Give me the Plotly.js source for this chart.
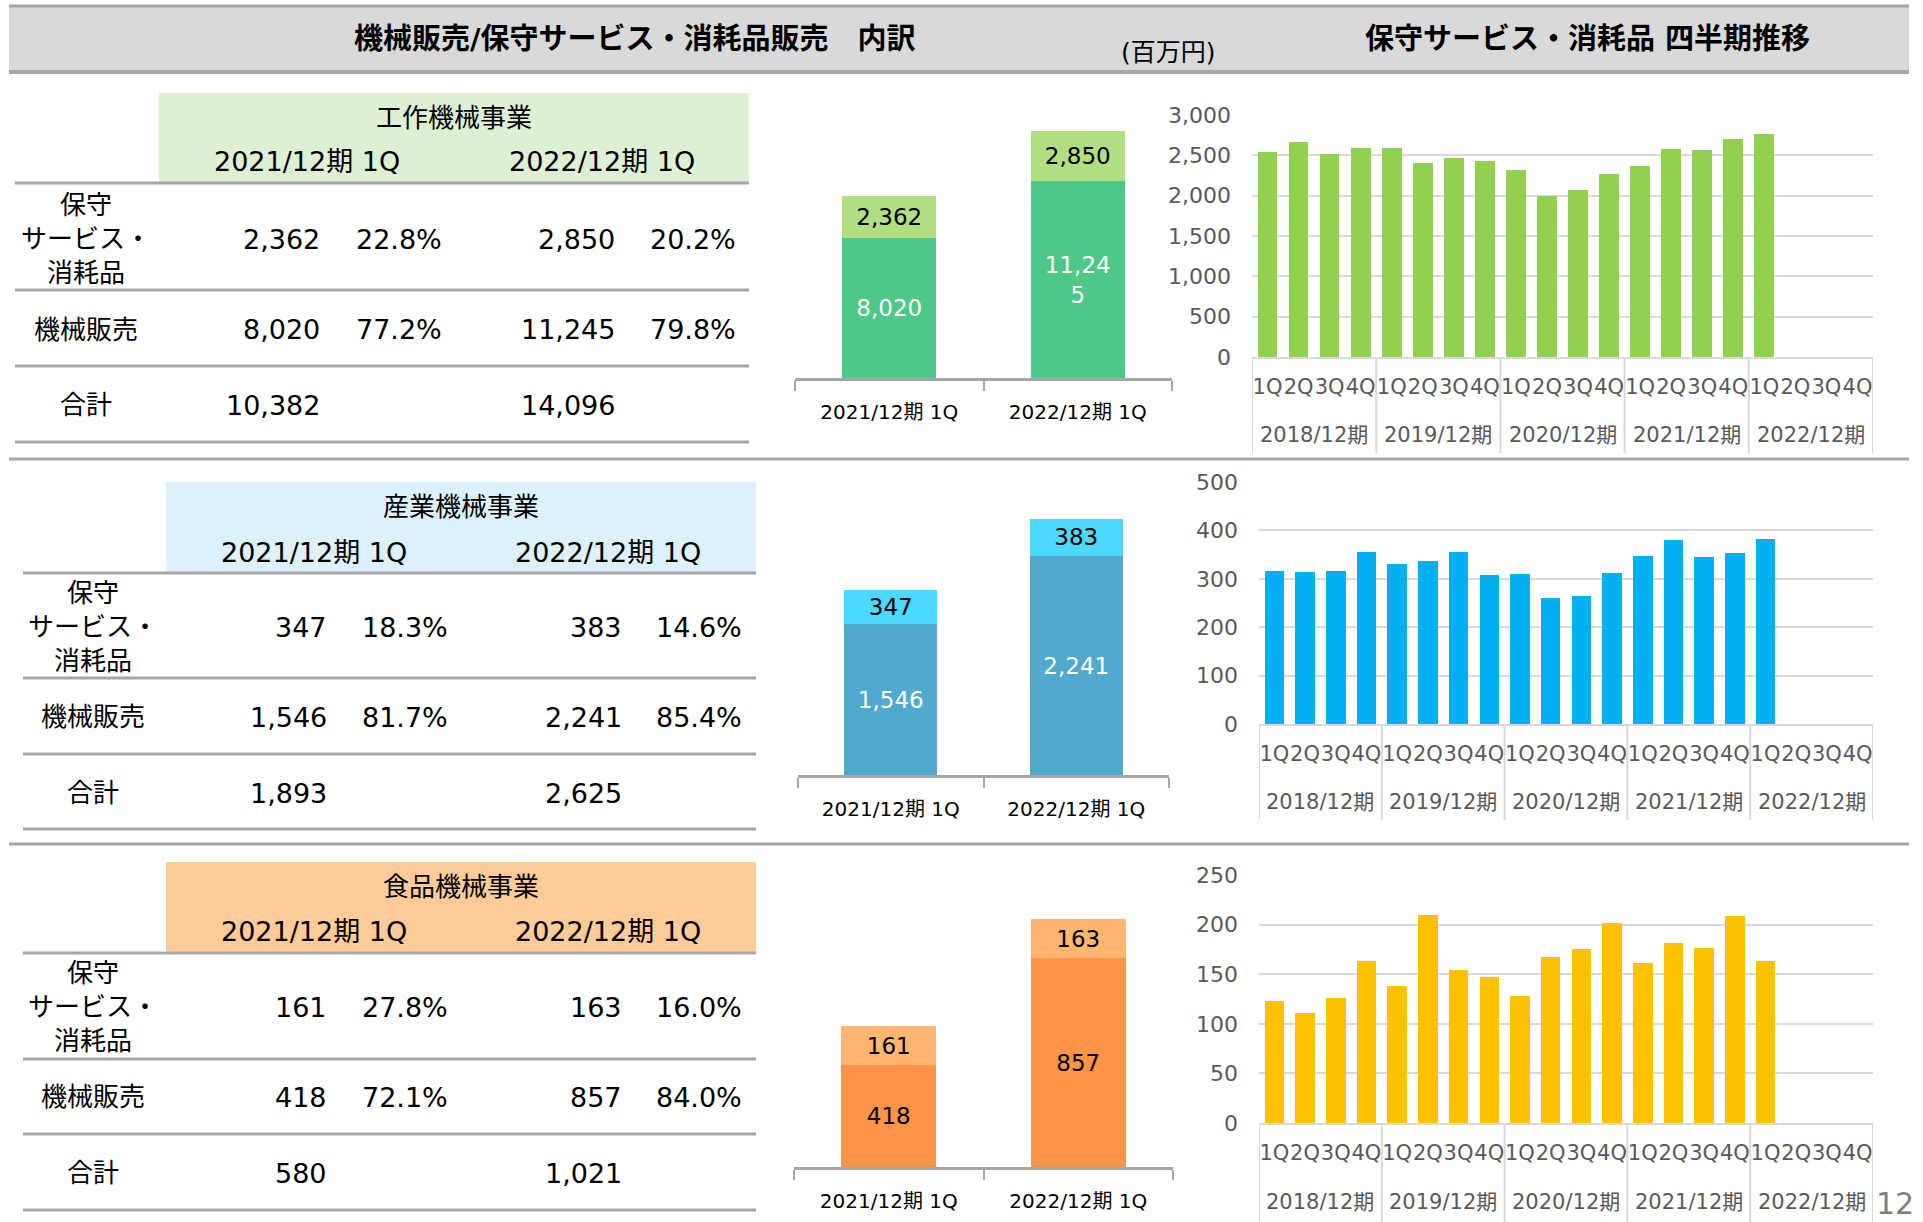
<!DOCTYPE html>
<html><head><meta charset="utf-8">
<script src="https://cdn.plot.ly/plotly-3.0.1.min.js"></script>
<style>html,body{margin:0;padding:0;background:#fff}#c{width:1923px;height:1222px}</style>
</head><body><div id="c"></div>
<script>
// ---------- DATA ----------
const segments = ['工作機械事業', '産業機械事業', '食品機械事業'];
const periods = ['2021/12期 1Q', '2022/12期 1Q'];
const rowLabels = ['保守<br>サービス・<br>消耗品', '機械販売', '合計'];
const serviceSales = [[2362, 2850], [347, 383], [161, 163]];
const machineSales = [[8020, 11245], [1546, 2241], [418, 857]];
const servicePct = [[22.8, 20.2], [18.3, 14.6], [27.8, 16.0]];
const machinePct = [[77.2, 79.8], [81.7, 85.4], [72.1, 84.0]];
const totals = [[10382, 14096], [1893, 2625], [580, 1021]];
const fiscalYears = ['2018/12期', '2019/12期', '2020/12期', '2021/12期', '2022/12期'];
const quarters = ['1Q', '2Q', '3Q', '4Q'];
const qMachineTool = [2540, 2660, 2520, 2590, 2590, 2410, 2465, 2435, 2320, 2000, 2070, 2265, 2362, 2580, 2565, 2700, 2765];
const qIndustrial = [316, 314, 316, 355, 330, 336, 355, 308, 310, 260, 265, 312, 347, 381, 345, 353, 383];
const qFood = [123, 111, 126, 163, 138, 210, 154, 147, 128, 167, 175, 202, 161, 181, 176, 209, 163];
const mainTitle = '機械販売/保守サービス・消耗品販売　内訳';
const unitLabel = '(百万円)';
const rightTitle = '保守サービス・消耗品 四半期推移';
const pageNo = '12';

// ---------- STYLE / GEOMETRY ----------
const W = 1923, H = 1222;
const FONT = 'DejaVu Sans, "Noto Sans CJK JP", sans-serif';
const X = p => p / W, Y = p => 1 - p / H;
const domX = (a, b) => [a / W, b / W];
const domY = (top, bot) => [1 - bot / H, 1 - top / H];
const fmt = v => v.toLocaleString('en-US');
const wrap5 = s => s.length > 5 ? s.slice(0, 5) + '<br>' + s.slice(5) : s;

const tableGeo = [
  {bgX: [159, 749], bgY: [93, 183], titleY: 118, colY: 162, colX: [307, 602], lineX: [15, 749], lineY: [183, 290, 366, 442], labelX: 86, rowY: [239, 330, 405], valR: [322, 444, 617, 738]},
  {bgX: [166, 756], bgY: [482, 572], titleY: 507, colY: 552, colX: [314, 608], lineX: [23, 756], lineY: [573, 678, 754, 829], labelX: 93, rowY: [627, 717, 793], valR: [329, 450, 624, 744]},
  {bgX: [166, 756], bgY: [862, 952], titleY: 887, colY: 932, colX: [314, 608], lineX: [23, 756], lineY: [953, 1059, 1134, 1210], labelX: 93, rowY: [1007, 1097, 1173], valR: [329, 450, 624, 744]}
];
const headerBg = ['#DEF0D3', '#DCF1FB', '#FFCC99'];
const stackGeo = [
  {x: [795, 1172], base: 378, top: 98, range: 16000},
  {x: [798, 1169], base: 775, top: 482, range: 3000},
  {x: [794, 1173], base: 1167, top: 875, range: 1200}
];
const stackColors = [['#4DC886', '#B1DE82'], ['#50AACD', '#4DD9FF'], ['#FF9448', '#FFB671']];
const stackTextColors = [['#fff', '#000'], ['#fff', '#000'], ['#000', '#000']];
const qGeo = [
  {x: [1252, 1873], base: 357, top: 115, range: 3000, dtick: 500, yearY: 435, divBot: 453},
  {x: [1259, 1873], base: 724, top: 482, range: 500, dtick: 100, yearY: 802, divBot: 820},
  {x: [1259, 1873], base: 1123, top: 875, range: 250, dtick: 50, yearY: 1202, divBot: 1222}
];
const qColors = ['#92D050', '#00B0F0', '#FFC000'];
const qData = [qMachineTool, qIndustrial, qFood];

const traces = [];
const shapes = [];
const annotations = [];
const layout = {
  width: W, height: H, margin: {l: 0, r: 0, t: 0, b: 0},
  paper_bgcolor: '#fff', plot_bgcolor: 'rgba(0,0,0,0)',
  showlegend: false, barmode: 'stack', font: {family: FONT, color: '#000'},
  shapes: shapes, annotations: annotations
};

const txt = (text, x, y, size, opts) => annotations.push(Object.assign({
  text: text, x: X(x), y: Y(y), xref: 'paper', yref: 'paper', showarrow: false,
  xanchor: 'center', yanchor: 'middle', font: {family: FONT, size: size, color: '#000'}
}, opts || {}));
const hline = (x0, x1, y, color, w) => shapes.push({type: 'line', xref: 'paper', yref: 'paper',
  x0: X(x0), x1: X(x1), y0: Y(y), y1: Y(y), line: {color: color, width: w}});

// header band
shapes.push({type: 'rect', xref: 'paper', yref: 'paper', x0: X(9), x1: X(1909), y0: Y(72), y1: Y(6),
  fillcolor: '#D9D9D9', line: {width: 0}, layer: 'below'});
hline(9, 1909, 6, '#A6A6A6', 3);
hline(9, 1909, 72, '#A6A6A6', 4);
txt('<b>' + mainTitle + '</b>', 635, 39, 29);
txt(unitLabel, 1168, 53, 25);
txt('<b>' + rightTitle + '</b>', 1587, 39, 29);
// section separators
hline(9, 1909, 459, '#A6A6A6', 3);
hline(9, 1909, 844, '#A6A6A6', 3);
txt(pageNo, 1895, 1203, 30, {font: {family: FONT, size: 30, color: '#7F7F7F'}});

// tables
segments.forEach((seg, s) => {
  const g = tableGeo[s];
  shapes.push({type: 'rect', xref: 'paper', yref: 'paper', x0: X(g.bgX[0]), x1: X(g.bgX[1]),
    y0: Y(g.bgY[1]), y1: Y(g.bgY[0]), fillcolor: headerBg[s], line: {width: 0}, layer: 'below'});
  g.lineY.forEach(y => hline(g.lineX[0], g.lineX[1], y, '#A6A6A6', 3));
  txt(seg, (g.bgX[0] + g.bgX[1]) / 2, g.titleY, 26);
  periods.forEach((p, i) => txt(p, g.colX[i], g.colY, 27));
  rowLabels.forEach((lab, r) => txt(lab, g.labelX, g.rowY[r], 26));
  const rows = [
    [fmt(serviceSales[s][0]), servicePct[s][0].toFixed(1) + '%', fmt(serviceSales[s][1]), servicePct[s][1].toFixed(1) + '%'],
    [fmt(machineSales[s][0]), machinePct[s][0].toFixed(1) + '%', fmt(machineSales[s][1]), machinePct[s][1].toFixed(1) + '%'],
    [fmt(totals[s][0]), '', fmt(totals[s][1]), '']
  ];
  rows.forEach((row, r) => row.forEach((v, c) => {
    if (v) txt(v, g.valR[c], g.rowY[r], 27, {xanchor: 'right'});
  }));
});

// stacked bars
segments.forEach((seg, s) => {
  const g = stackGeo[s];
  const k = s + 1;
  const xa = 'xaxis' + k, ya = 'yaxis' + k;
  layout[xa] = {domain: domX(g.x[0], g.x[1]), anchor: 'y' + k, type: 'category',
    showline: true, linecolor: '#A6A6A6', linewidth: 3, ticks: 'outside', tickson: 'boundaries',
    ticklen: 10, tickcolor: '#A6A6A6', tickwidth: 2, showgrid: false, zeroline: false,
    tickfont: {family: FONT, size: 20, color: '#000'}, tickangle: 0, ticklabelstandoff: 14, fixedrange: true};
  layout[ya] = {domain: domY(g.top, g.base), anchor: 'x' + k, range: [0, g.range], visible: false, fixedrange: true};
  [machineSales[s], serviceSales[s]].forEach((vals, j) => {
    traces.push({type: 'bar', x: periods, y: vals, xaxis: 'x' + k, yaxis: 'y' + k, width: 0.5,
      marker: {color: stackColors[s][j]},
      text: vals.map(v => wrap5(fmt(v))), textposition: 'inside', insidetextanchor: 'middle',
      textangle: 0, constraintext: 'none',
      textfont: {family: FONT, size: 23, color: stackTextColors[s][j]}, hoverinfo: 'skip'});
  });
});

// quarterly bars
qData.forEach((vals, s) => {
  const g = qGeo[s];
  const k = s + 4;
  const nCat = fiscalYears.length * quarters.length;
  const idx = Array.from({length: nCat}, (_, i) => i);
  layout['xaxis' + k] = {domain: domX(g.x[0], g.x[1]), anchor: 'y' + k, range: [-0.5, nCat - 0.5],
    tickvals: idx, ticktext: idx.map(i => quarters[i % quarters.length]), tickangle: 0,
    showline: true, linecolor: '#D9D9D9', linewidth: 2, ticks: '', showgrid: false, zeroline: false,
    tickfont: {family: FONT, size: 21, color: '#595959'}, ticklabelstandoff: 10, fixedrange: true};
  layout['yaxis' + k] = {domain: domY(g.top, g.base), anchor: 'x' + k, range: [0, g.range], dtick: g.dtick,
    tickformat: ',d', showgrid: true, gridcolor: '#D9D9D9', gridwidth: 2, zeroline: false, showline: false,
    ticks: '', tickfont: {family: FONT, size: 22, color: '#595959'}, ticklabelstandoff: 20, fixedrange: true};
  traces.push({type: 'bar', x: vals.map((_, i) => i), y: vals, xaxis: 'x' + k, yaxis: 'y' + k, width: 0.635,
    marker: {color: qColors[s]}, hoverinfo: 'skip'});
  fiscalYears.forEach((fy, i) => {
    annotations.push({text: fy, x: i * quarters.length + (quarters.length - 1) / 2, xref: 'x' + k,
      y: Y(g.yearY), yref: 'paper', showarrow: false, xanchor: 'center', yanchor: 'middle',
      font: {family: FONT, size: 21, color: '#595959'}});
  });
  for (let i = 0; i <= fiscalYears.length; i++) {
    shapes.push({type: 'line', xref: 'x' + k, yref: 'paper', x0: i * quarters.length - 0.5, x1: i * quarters.length - 0.5,
      y0: Y(g.base), y1: Y(g.divBot), line: {color: '#D9D9D9', width: 2}});
  }
});

Plotly.newPlot('c', traces, layout, {staticPlot: true, displayModeBar: false});
</script></body></html>
